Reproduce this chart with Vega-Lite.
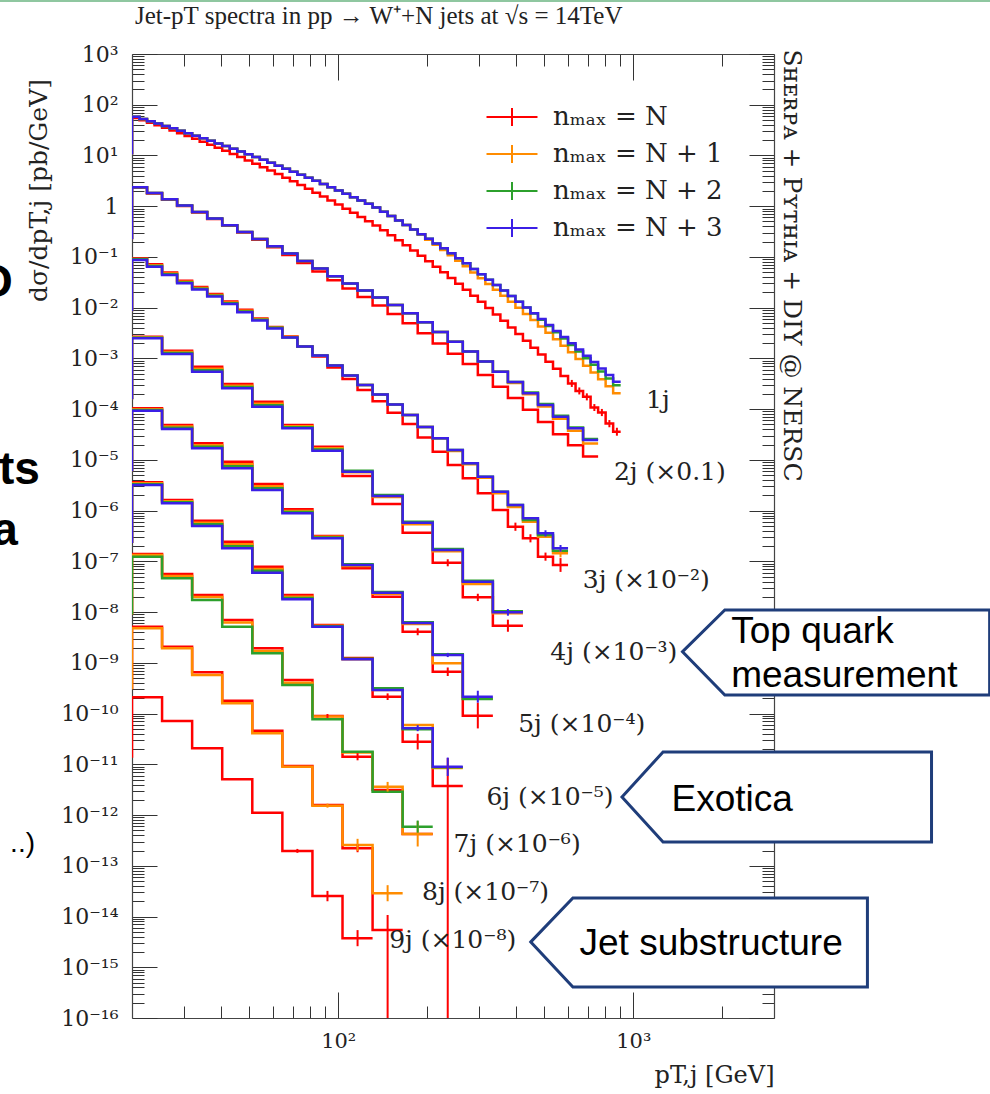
{
"$schema": "https://vega.github.io/schema/vega-lite/v6.json",
"width": 642, "height": 964,
"autosize": {"type": "none"},
"padding": {"left": 132, "top": 54, "right": 216, "bottom": 76},
"background": "white",
"config": {"view": {"stroke": null}, "font": "DejaVu Serif"},
"title": {"text": "Jet-pT spectra in pp → W⁺+N jets at √s = 14TeV", "anchor": "start", "frame": "group", "offset": 0, "dy": 49, "baseline": "alphabetic", "font": "Liberation Serif", "fontSize": 25, "fontWeight": "normal", "color": "#222222", "dx": 3},
"datasets": {
"h": [
{"j":1,
"x":[19.9,20,21.21,22.49,23.85,25.29,26.82,28.44,30.16,31.98,33.92,35.97,38.14,40.44,42.89,45.48,48.23,51.14,54.23,57.51,60.99,64.67,68.58,72.73,77.12,81.78,86.72,91.96,97.52,103.41,109.66,116.29,123.32,130.77,138.67,147.05,155.94,165.36,175.36,185.95,197.19,209.1,221.74,235.14,249.35,264.42,280.39,297.34,315.3,334.36,354.56,375.99,398.71,422.8,448.35,475.44,504.17,534.64,566.95,601.2,637.54,676.06,716.91,760.24,806.18,854.89,906.55],
"r":[11,55.0,49.3,44.1,39.4,35.0,31.0,27.5,24.2,21.3,18.7,16.3,14.2,12.4,10.7,9.28,8.00,6.88,5.89,5.04,4.29,3.65,3.09,2.61,2.20,1.85,1.55,1.294,1.078,0.896,0.742,0.613,0.504,0.416,0.335,0.2686,0.2141,0.170,0.1343,0.1056,0.0826,0.0644,0.0499,0.0385,0.0296,0.0226,0.0172,0.01303,0.00982,0.00737,0.0055,0.00409,0.00303,0.00223,0.00163,0.00119,0.000864,0.000624,0.000449,0.000322,0.000229,0.000175,0.000108,0.000086,0.000052,0.000036,0.000036],
"o":[11,57.7,52.2,47.1,42.5,38.2,34.3,30.7,27.5,24.5,21.9,19.5,17.3,15.3,13.6,12.0,10.6,9.32,8.20,7.19,6.30,5.50,4.80,4.18,3.64,3.16,2.73,2.36,2.04,1.76,1.51,1.30,1.114,0.944,0.778,0.638,0.523,0.426,0.347,0.276,0.219,0.1732,0.1366,0.1074,0.0842,0.0658,0.0493,0.0381,0.0293,0.0225,0.0172,0.01312,0.00996,0.00754,0.00569,0.00428,0.00321,0.00239,0.00178,0.00132,0.000977,0.00072,0.000529,0.000387,0.000282,0.000205,0.000205],
"g":[11,57.7,52.2,47.1,42.5,38.2,34.3,30.7,27.5,24.5,21.9,19.5,17.3,15.3,13.6,12.0,10.6,9.32,8.20,7.19,6.30,5.50,4.80,4.18,3.64,3.16,2.73,2.36,2.04,1.76,1.51,1.30,1.114,0.944,0.778,0.638,0.523,0.426,0.347,0.281,0.228,0.1836,0.1477,0.1184,0.0946,0.0754,0.0577,0.0454,0.0357,0.0279,0.02177,0.01693,0.0131,0.01012,0.00768,0.0058,0.00438,0.00329,0.00246,0.00184,0.00137,0.00101,0.000749,0.000551,0.000404,0.000296,0.000296],
"b":[11,57.7,52.2,47.1,42.5,38.2,34.3,30.7,27.5,24.5,21.9,19.5,17.3,15.3,13.6,12.0,10.6,9.32,8.20,7.19,6.30,5.50,4.80,4.18,3.64,3.16,2.73,2.36,2.04,1.76,1.51,1.30,1.114,0.944,0.778,0.638,0.523,0.426,0.347,0.281,0.228,0.1836,0.1477,0.1184,0.0946,0.0754,0.0577,0.0454,0.0357,0.0279,0.02177,0.01693,0.0131,0.01012,0.00778,0.00597,0.00456,0.00347,0.00264,0.00199,0.0015,0.00113,0.000846,0.000631,0.000469,0.000348,0.000348]},
{"j":2,
"x":[19.9,20,22.49,25.29,28.44,31.98,35.97,40.44,45.48,51.14,57.51,64.67,72.73,81.78,91.96,103.41,116.29,130.77,147.05,165.36,185.95,209.1,235.14,264.42,297.34,334.36,375.99,422.8,475.44,534.64,601.2,676.06,760.24],
"r":[0.236,2.31,1.781,1.338,1.005,0.752,0.56,0.413,0.3034,0.2189,0.1557,0.1093,0.076,0.0515,0.0347,0.0239,0.01625,0.01105,0.00751,0.00493,0.00313,0.00197,0.00124,0.000777,0.000472,0.000277,0.000166,0.0000972,0.0000559,0.0000321,0.0000194,0.0000116,0.0000116],
"o":[0.236,2.36,1.822,1.369,1.028,0.769,0.573,0.4227,0.3105,0.2259,0.163,0.117,0.0833,0.059,0.0416,0.03,0.0218,0.0159,0.0113,0.00776,0.00516,0.00332,0.00214,0.00137,0.00087,0.000548,0.000328,0.000196,0.000113,0.0000649,0.0000375,0.0000211,0.0000211],
"g":[0.236,2.36,1.822,1.369,1.028,0.769,0.573,0.4227,0.3105,0.2259,0.163,0.117,0.0833,0.059,0.0416,0.03,0.0218,0.0159,0.0113,0.00776,0.00516,0.00332,0.00214,0.00137,0.00087,0.000548,0.000343,0.000214,0.000126,0.000074,0.0000437,0.0000257,0.0000257],
"b":[0.236,2.36,1.822,1.369,1.028,0.769,0.573,0.4227,0.3105,0.2259,0.163,0.117,0.0833,0.059,0.0416,0.03,0.0218,0.0159,0.0113,0.00776,0.00516,0.00332,0.00214,0.00137,0.00087,0.000548,0.000343,0.000206,0.000121,0.0000711,0.000042,0.0000247,0.0000247]},
{"j":3,
"x":[19.9,20,22.49,25.29,28.44,31.98,35.97,40.44,45.48,51.14,57.51,64.67,72.73,81.78,91.96,103.41,116.29,130.77,147.05,165.36,185.95,209.1,235.14,264.42,297.34,334.36,375.99,422.8,475.44,534.64,601.2],
"r":[0.009,0.0932,0.072,0.0494,0.0339,0.0256,0.0186,0.01325,0.00909,0.00612,0.00416,0.00271,0.00172,0.00109,0.000663,0.000393,0.000239,0.0001437,0.0000849,0.000051,0.0000275,0.0000145,0.00000794,0.00000434,0.0000022,0.00000103,4.83e-7,2.85e-7,1.24e-7,8.49e-8,8.49e-8],
"o":[0.009,0.0911,0.0688,0.0472,0.0324,0.02445,0.0178,0.01266,0.00869,0.00599,0.00407,0.00267,0.00172,0.00114,0.000726,0.000461,0.0002996,0.0001947,0.0001237,0.0000768,0.0000445,0.0000267,0.000015,0.0000082,0.00000446,0.00000221,0.00000118,6.06e-7,3.07e-7,1.44e-7,1.44e-7],
"g":[0.009,0.0903,0.0666,0.0457,0.03138,0.02368,0.01724,0.01227,0.00842,0.0058,0.00403,0.00259,0.00172,0.00114,0.000726,0.000461,0.0002996,0.0001947,0.0001237,0.0000768,0.0000445,0.0000267,0.0000157,0.00000858,0.00000467,0.00000236,0.00000129,6.54e-7,3.31e-7,1.62e-7,1.62e-7],
"b":[0.009,0.0871,0.0643,0.0441,0.0303,0.0228,0.0166,0.01183,0.00811,0.00559,0.00389,0.00259,0.00172,0.00114,0.000726,0.000461,0.0002996,0.0001947,0.0001237,0.0000768,0.0000445,0.0000267,0.0000157,0.00000858,0.00000467,0.00000236,0.00000129,7.07e-7,3.58e-7,1.81e-7,1.81e-7]},
{"j":4,
"x":[19.9,20,25.29,31.98,40.44,51.14,64.67,81.78,103.41,130.77,165.36,209.1,264.42,334.36,422.8],
"r":[1.66e-4,2.68e-3,1.42e-3,6.86e-4,3.13e-4,1.40e-4,4.9e-5,1.82e-5,4.82e-6,1.35e-6,3.68e-7,9.4e-8,1.96e-8,5.4e-9,5.4e-9],
"o":[1.66e-4,2.60e-3,1.337e-3,6.26e-4,2.89e-4,1.279e-4,4.60e-5,1.693e-5,5.71e-6,1.86e-6,5.41e-7,1.585e-7,3.59e-8,9.46e-9,9.46e-9],
"g":[1.66e-4,2.55e-3,1.279e-3,5.85e-4,2.73e-4,1.195e-4,4.39e-5,1.605e-5,6.12e-6,2.04e-6,6.07e-7,1.76e-7,4.17e-8,1.04e-8,1.04e-8],
"b":[1.66e-4,2.49e-3,1.22e-3,5.47e-4,2.57e-4,1.12e-4,4.2e-5,1.52e-5,5.85e-6,1.94e-6,5.8e-7,1.68e-7,3.98e-8,9.9e-9,9.9e-9]},
{"j":5,
"x":[19.9,20,25.29,31.98,40.44,51.14,64.67,81.78,103.41,130.77,165.36,209.1,264.42,334.36],
"r":[6.3e-6,1.041e-4,4.88e-5,2.13e-5,9.22e-6,3.35e-6,1.063e-6,3.17e-7,7.31e-8,2.01e-8,4.12e-9,6.7e-10,9.1e-11,9.1e-11],
"o":[6.3e-6,9.96e-5,4.54e-5,1.941e-5,8.18e-6,3.01e-6,9.89e-7,3.04e-7,8.11e-8,2.31e-8,5.83e-9,9.8e-10,1.96e-10,1.96e-10],
"g":[6.3e-6,9.64e-5,4.30e-5,1.814e-5,7.48e-6,2.77e-6,9.37e-7,2.94e-7,8.79e-8,2.50e-8,6.32e-9,1.479e-9,1.94e-10,1.94e-10],
"b":[6.3e-6,9.33e-5,4.07e-5,1.694e-5,6.83e-6,2.55e-6,8.87e-7,2.85e-7,8.49e-8,2.42e-8,6.11e-9,1.429e-9,2.15e-10,2.15e-10]},
{"j":6,
"x":[19.9,20,25.29,31.98,40.44,51.14,64.67,81.78,103.41,130.77,165.36,209.1,264.42],
"r":[2.44e-7,3.62e-6,1.622e-6,6.34e-7,2.44e-7,7.87e-8,2.18e-8,5.58e-9,1.247e-9,2.15e-10,2.80e-11,3.75e-12,3.75e-12],
"o":[2.44e-7,3.45e-6,1.528e-6,5.76e-7,2.17e-7,7.06e-8,2.01e-8,5.41e-9,1.178e-9,2.92e-10,5.97e-11,8.47e-12,8.47e-12],
"g":[2.44e-7,3.32e-6,1.461e-6,5.36e-7,1.982e-7,6.50e-8,1.90e-8,5.29e-9,1.20e-9,3.16e-10,4.90e-11,8.71e-12,8.71e-12],
"b":[2.44e-7,3.20e-6,1.396e-6,4.98e-7,1.812e-7,5.99e-8,1.79e-8,5.16e-9,1.178e-9,2.92e-10,5.14e-11,9.0e-12,9.0e-12]},
{"j":7,
"x":[19.9,20,25.29,31.98,40.44,51.14,64.67,81.78,103.41,130.77,165.36,209.1],
"r":[9.5e-9,1.40e-7,5.65e-8,2.18e-8,7.00e-9,1.94e-9,4.60e-10,8.98e-11,1.416e-11,3.13e-12,4.25e-13,4.25e-13],
"o":[9.5e-9,1.337e-7,5.15e-8,1.99e-8,6.25e-9,1.714e-9,4.06e-10,8.77e-11,1.714e-11,3.63e-12,4.25e-13,4.25e-13],
"g":[9.5e-9,1.238e-7,4.65e-8,1.734e-8,5.16e-9,1.545e-9,3.66e-10,7.73e-11,1.778e-11,2.89e-12,5.91e-13,5.91e-13],
"b":[]},
{"j":8,
"x":[19.9,20,25.29,31.98,40.44,51.14,64.67,81.78,103.41,130.77,165.36],
"r":[3.2e-10,5.16e-9,2.08e-9,6.52e-10,1.80e-10,4.61e-11,9.29e-12,1.581e-12,2.22e-13,5.43e-15,5.43e-15],
"o":[3.2e-10,4.80e-9,1.94e-9,5.77e-10,1.596e-10,4.09e-11,9.0e-12,1.531e-12,2.58e-13,2.88e-14,2.88e-14],
"g":[],"b":[]},
{"j":9,
"x":[19.9,20,25.29,31.98,40.44,51.14,64.67,81.78,103.41,130.77],
"r":[1.42e-11,2.10e-10,7.14e-11,2.07e-11,5.08e-12,1.115e-12,1.963e-13,2.55e-14,3.73e-15,3.73e-15],
"o":[],"g":[],"b":[]}
],
"eb": [
{"s":"r","x":619.1,"lo":2.74e-4,"hi":3.77e-4},
{"s":"r","x":656.5,"lo":1.95e-4,"hi":2.68e-4},
{"s":"r","x":696.2,"lo":1.49e-4,"hi":2.05e-4},
{"s":"r","x":738.3,"lo":9.2e-5,"hi":1.26e-4},
{"s":"r","x":782.9,"lo":7.3e-5,"hi":1.01e-4},
{"s":"r","x":830.2,"lo":4.4e-5,"hi":6.1e-5},
{"s":"r","x":880.3,"lo":3.0e-5,"hi":4.3e-5},
{"s":"r","x":398.7,"lo":4.0e-7,"hi":5.8e-7},
{"s":"r","x":448.35,"lo":2.37e-7,"hi":3.42e-7},
{"s":"r","x":504.2,"lo":1.03e-7,"hi":1.49e-7},
{"s":"r","x":566.95,"lo":6.2e-8,"hi":1.16e-7},
{"s":"r","x":235.1,"lo":8.0e-8,"hi":1.1e-7},
{"s":"r","x":297.3,"lo":1.65e-8,"hi":2.3e-8},
{"s":"r","x":376.0,"lo":4.1e-9,"hi":7.1e-9},
{"s":"r","x":185.95,"lo":3.5e-9,"hi":4.8e-9},
{"s":"r","x":235.1,"lo":5.5e-10,"hi":8.1e-10},
{"s":"r","x":297.3,"lo":5.1e-11,"hi":1.64e-10},
{"s":"r","x":147.05,"lo":1.85e-10,"hi":2.5e-10},
{"s":"r","x":185.95,"lo":1.96e-11,"hi":4.0e-11},
{"s":"r","x":235.1,"lo":1e-20,"hi":1.33e-11},
{"s":"r","x":91.96,"lo":8.2e-11,"hi":9.8e-11},
{"s":"r","x":116.3,"lo":1.2e-11,"hi":1.66e-11},
{"s":"r","x":116.3,"lo":1.85e-13,"hi":2.65e-13},
{"s":"r","x":147.05,"lo":1e-20,"hi":1.07e-14},
{"s":"r","x":72.72,"lo":1.8e-13,"hi":2.15e-13},
{"s":"r","x":91.96,"lo":2.0e-14,"hi":3.2e-14},
{"s":"r","x":116.3,"lo":2.6e-15,"hi":5.4e-15},
{"s":"o","x":566.95,"lo":1.2e-7,"hi":1.7e-7},
{"s":"o","x":147.05,"lo":2.9e-12,"hi":4.5e-12},
{"s":"o","x":185.95,"lo":2.4e-13,"hi":7.6e-13},
{"s":"o","x":91.96,"lo":1.4e-12,"hi":1.68e-12},
{"s":"o","x":116.3,"lo":1.95e-13,"hi":3.4e-13},
{"s":"o","x":147.05,"lo":2.0e-14,"hi":4.15e-14},
{"s":"g","x":185.95,"lo":4.5e-13,"hi":7.8e-13},
{"s":"b","x":504.2,"lo":3.1e-7,"hi":4.1e-7},
{"s":"b","x":566.95,"lo":1.55e-7,"hi":2.1e-7},
{"s":"b","x":376.0,"lo":8.5e-9,"hi":1.15e-8},
{"s":"b","x":235.1,"lo":1.3e-9,"hi":1.57e-9},
{"s":"b","x":297.3,"lo":1.64e-10,"hi":2.82e-10},
{"s":"b","x":185.95,"lo":4.5e-11,"hi":5.9e-11},
{"s":"b","x":235.1,"lo":5.9e-12,"hi":1.36e-11}
],
"box": [
{"box":"t","x":1469.6,"y":1.66e-9,"y2":1.66e-9},
{"box":"t","x":2044,"y":1.10e-8,"y2":2.33e-10},
{"box":"t","x":16144,"y":1.10e-8,"y2":2.33e-10},
{"box":"e","x":916,"y":2.28e-12,"y2":2.28e-12},
{"box":"e","x":1262,"y":1.75e-11,"y2":2.95e-13},
{"box":"e","x":10258,"y":1.75e-11,"y2":2.95e-13},
{"box":"s","x":449.6,"y":3.16e-15,"y2":3.16e-15},
{"box":"s","x":624.4,"y":2.32e-14,"y2":4.09e-16},
{"box":"s","x":6220,"y":2.32e-14,"y2":4.09e-16}
],
"ct": [
{"x":2148,"y":2.47e-9,"t":"Top quark"},
{"x":2148,"y":3.35e-10,"t":"measurement"},
{"x":1348,"y":1.205e-12,"t":"Exotica"},
{"x":657.5,"y":1.75e-15,"t":"Jet substructure"}
],
"ml": [
{"x":1104.8,"y":1.054e-4,"t":"1j"},
{"x":860.2,"y":4.02e-6,"t":"2j (×0.1)"},
{"x":674.2,"y":2.95e-8,"t":"3j (×10⁻²)"},
{"x":523.4,"y":1.14e-9,"t":"4j (×10⁻³)"},
{"x":407.4,"y":4.28e-11,"t":"5j (×10⁻⁴)"},
{"x":318,"y":1.58e-12,"t":"6j (×10⁻⁵)"},
{"x":246,"y":1.90e-13,"t":"7j (×10⁻⁶)"},
{"x":192.3,"y":2.12e-14,"t":"8j (×10⁻⁷)"},
{"x":148.8,"y":2.37e-15,"t":"9j (×10⁻⁸)"}
],
"fr": [
{"x":7.89,"y":1.625e-2,"t":"O"},
{"x":9.75,"y":3.35e-6,"t":"ts"},
{"x":8.21,"y":2.1e-7,"t":"a"}
],
"fr2": [{"x":9.38,"y":1.875e-13,"t":"..)"}],
"top": [{"x":7.13,"x2":16400,"y":11080}]
},
"layer": [
{
"data": {"values": [{"x": 100, "y": 1}]},
"mark": {"type": "point", "opacity": 0},
"encoding": {
"x": {"field": "x", "type": "quantitative", "scale": {"type": "log", "domain": [20, 3000], "nice": false},
 "axis": {"orient": "bottom", "values": [30,40,50,60,70,80,90,100,200,300,400,500,600,700,800,900,1000,2000],
  "labelExpr": "datum.value == 100 ? '10²' : (datum.value == 1000 ? '10³' : '')",
  "tickSize": {"condition": {"test": "datum.value == 100 || datum.value == 1000", "value": -26}, "value": -12},
  "labelPadding": {"condition": {"test": "datum.value == 100 || datum.value == 1000", "value": 38}, "value": 24},
  "labelFont": "DejaVu Serif", "labelFontSize": 21, "labelColor": "#222222", "labelBaseline": "top", "labelOverlap": false, "labelFlush": false,
  "tickColor": "#333333", "tickWidth": 1, "domainColor": "#444444", "domainWidth": 1.2, "grid": false, "zindex": 0,
  "title": "pT,j [GeV]", "titleFont": "DejaVu Serif", "titleFontSize": 24, "titleFontWeight": "normal", "titleColor": "#222222",
  "titleAnchor": "end", "titleAlign": "right", "titleBaseline": "alphabetic", "titleX": 642, "titleY": 64}},
"y": {"field": "y", "type": "quantitative", "scale": {"type": "log", "domain": [1e-16, 1000], "nice": false},
 "axis": {"orient": "left",
  "values": [1e-16,2e-16,3e-16,4e-16,5e-16,6e-16,7e-16,8e-16,9e-16,1e-15,2e-15,3e-15,4e-15,5e-15,6e-15,7e-15,8e-15,9e-15,1e-14,2e-14,3e-14,4e-14,5e-14,6e-14,7e-14,8e-14,9e-14,1e-13,2e-13,3e-13,4e-13,5e-13,6e-13,7e-13,8e-13,9e-13,1e-12,2e-12,3e-12,4e-12,5e-12,6e-12,7e-12,8e-12,9e-12,1e-11,2e-11,3e-11,4e-11,5e-11,6e-11,7e-11,8e-11,9e-11,1e-10,2e-10,3e-10,4e-10,5e-10,6e-10,7e-10,8e-10,9e-10,1e-9,2e-9,3e-9,4e-9,5e-9,6e-9,7e-9,8e-9,9e-9,1e-8,2e-8,3e-8,4e-8,5e-8,6e-8,7e-8,8e-8,9e-8,1e-7,2e-7,3e-7,4e-7,5e-7,6e-7,7e-7,8e-7,9e-7,1e-6,2e-6,3e-6,4e-6,5e-6,6e-6,7e-6,8e-6,9e-6,1e-5,2e-5,3e-5,4e-5,5e-5,6e-5,7e-5,8e-5,9e-5,1e-4,2e-4,3e-4,4e-4,5e-4,6e-4,7e-4,8e-4,9e-4,1e-3,2e-3,3e-3,4e-3,5e-3,6e-3,7e-3,8e-3,9e-3,1e-2,2e-2,3e-2,4e-2,5e-2,6e-2,7e-2,8e-2,9e-2,0.1,0.2,0.3,0.4,0.5,0.6,0.7,0.8,0.9,1,2,3,4,5,6,7,8,9,10,20,30,40,50,60,70,80,90,100,200,300,400,500,600,700,800,900,1000],
  "labelExpr": "abs(log(datum.value)/LN10 - round(log(datum.value)/LN10)) < 0.01 ? ['10⁻¹⁶','10⁻¹⁵','10⁻¹⁴','10⁻¹³','10⁻¹²','10⁻¹¹','10⁻¹⁰','10⁻⁹','10⁻⁸','10⁻⁷','10⁻⁶','10⁻⁵','10⁻⁴','10⁻³','10⁻²','10⁻¹','1','10¹','10²','10³'][round(log(datum.value)/LN10)+16] : ''",
  "tickSize": {"condition": {"test": "abs(log(datum.value)/LN10 - round(log(datum.value)/LN10)) < 0.01", "value": -25}, "value": -12},
  "labelPadding": {"condition": {"test": "abs(log(datum.value)/LN10 - round(log(datum.value)/LN10)) < 0.01", "value": 39}, "value": 25},
  "labelFont": "DejaVu Serif", "labelFontSize": 22, "labelColor": "#222222", "labelOverlap": false, "labelFlush": false, "labelBaseline": "middle",
  "tickColor": "#333333", "tickWidth": 1, "domainColor": "#444444", "domainWidth": 1.2, "grid": false, "zindex": 0,
  "title": "dσ/dpT,j [pb/GeV]", "titleFont": "DejaVu Serif", "titleFontSize": 25, "titleFontWeight": "normal", "titleColor": "#222222",
  "titleAngle": -90, "titleAlign": "center", "titleBaseline": "middle", "titleX": -94, "titleY": 136}}
}
},
{
"data": {"values": [{"x": 100, "y": 1}]},
"mark": {"type": "point", "opacity": 0},
"encoding": {
"x": {"field": "x", "type": "quantitative", "scale": {"type": "log", "domain": [20, 3000], "nice": false},
 "axis": {"orient": "top", "values": [30,40,50,60,70,80,90,100,200,300,400,500,600,700,800,900,1000,2000], "labels": false,
  "tickSize": {"condition": {"test": "datum.value == 100 || datum.value == 1000", "value": -26}, "value": -12},
  "tickColor": "#333333", "tickWidth": 1, "domainColor": "#444444", "domainWidth": 1.2, "grid": false, "zindex": 0, "title": null}},
"y": {"field": "y", "type": "quantitative", "scale": {"type": "log", "domain": [1e-16, 1000], "nice": false},
 "axis": {"orient": "right", "labels": false,
  "values": [1e-16,2e-16,3e-16,4e-16,5e-16,6e-16,7e-16,8e-16,9e-16,1e-15,2e-15,3e-15,4e-15,5e-15,6e-15,7e-15,8e-15,9e-15,1e-14,2e-14,3e-14,4e-14,5e-14,6e-14,7e-14,8e-14,9e-14,1e-13,2e-13,3e-13,4e-13,5e-13,6e-13,7e-13,8e-13,9e-13,1e-12,2e-12,3e-12,4e-12,5e-12,6e-12,7e-12,8e-12,9e-12,1e-11,2e-11,3e-11,4e-11,5e-11,6e-11,7e-11,8e-11,9e-11,1e-10,2e-10,3e-10,4e-10,5e-10,6e-10,7e-10,8e-10,9e-10,1e-9,2e-9,3e-9,4e-9,5e-9,6e-9,7e-9,8e-9,9e-9,1e-8,2e-8,3e-8,4e-8,5e-8,6e-8,7e-8,8e-8,9e-8,1e-7,2e-7,3e-7,4e-7,5e-7,6e-7,7e-7,8e-7,9e-7,1e-6,2e-6,3e-6,4e-6,5e-6,6e-6,7e-6,8e-6,9e-6,1e-5,2e-5,3e-5,4e-5,5e-5,6e-5,7e-5,8e-5,9e-5,1e-4,2e-4,3e-4,4e-4,5e-4,6e-4,7e-4,8e-4,9e-4,1e-3,2e-3,3e-3,4e-3,5e-3,6e-3,7e-3,8e-3,9e-3,1e-2,2e-2,3e-2,4e-2,5e-2,6e-2,7e-2,8e-2,9e-2,0.1,0.2,0.3,0.4,0.5,0.6,0.7,0.8,0.9,1,2,3,4,5,6,7,8,9,10,20,30,40,50,60,70,80,90,100,200,300,400,500,600,700,800,900,1000],
  "tickSize": {"condition": {"test": "abs(log(datum.value)/LN10 - round(log(datum.value)/LN10)) < 0.01", "value": -25}, "value": -12},
  "tickColor": "#333333", "tickWidth": 1, "domainColor": "#444444", "domainWidth": 1.2, "grid": false, "zindex": 0,
  "title": "Sʜᴇʀᴘᴀ + Pʏᴛʜɪᴀ + DIY @ NERSC", "titleFont": "DejaVu Serif", "titleFontSize": 25, "titleFontWeight": "normal", "titleColor": "#222222",
  "titleAngle": 90, "titleAlign": "center", "titleBaseline": "middle", "titleX": 17, "titleY": 211}}
}
},
{
"data": {"name": "h"},
"transform": [{"flatten": ["x", "r", "o", "g", "b"]}],
"layer": [
{"mark": {"type": "line", "interpolate": "step-after", "clip": true, "strokeWidth": 2.5},
 "encoding": {
  "x": {"field": "x", "type": "quantitative", "scale": {"type": "log", "domain": [20, 3000], "nice": false}, "axis": null},
  "y": {"field": "r", "type": "quantitative", "scale": {"type": "log", "domain": [1e-16, 1000], "nice": false}, "axis": null},
  "detail": {"field": "j", "type": "nominal"},
  "color": {"datum": "nₘₐₓ = N", "type": "nominal",
   "scale": {"domain": ["nₘₐₓ = N", "nₘₐₓ = N + 1", "nₘₐₓ = N + 2", "nₘₐₓ = N + 3"], "range": ["#ff0000", "#ff8c00", "#2ca02c", "#3b1fe6"]},
   "legend": {"orient": "none", "legendX": 366, "legendY": 49, "title": null, "symbolType": "M-2,0H2M0,-0.7V0.7", "symbolSize": 650, "symbolStrokeWidth": 2,
    "labelFont": "DejaVu Serif", "labelFontSize": 26, "labelColor": "#222222", "labelOffset": 27, "rowPadding": 10, "padding": 0, "labelLimit": 400}}
 }},
{"mark": {"type": "line", "interpolate": "step-after", "clip": true, "strokeWidth": 2.5},
 "encoding": {
  "x": {"field": "x", "type": "quantitative", "scale": {"type": "log", "domain": [20, 3000], "nice": false}, "axis": null},
  "y": {"field": "o", "type": "quantitative", "scale": {"type": "log", "domain": [1e-16, 1000], "nice": false}, "axis": null},
  "detail": {"field": "j", "type": "nominal"},
  "color": {"datum": "nₘₐₓ = N + 1", "type": "nominal"}
 }},
{"mark": {"type": "line", "interpolate": "step-after", "clip": true, "strokeWidth": 2.5},
 "encoding": {
  "x": {"field": "x", "type": "quantitative", "scale": {"type": "log", "domain": [20, 3000], "nice": false}, "axis": null},
  "y": {"field": "g", "type": "quantitative", "scale": {"type": "log", "domain": [1e-16, 1000], "nice": false}, "axis": null},
  "detail": {"field": "j", "type": "nominal"},
  "color": {"datum": "nₘₐₓ = N + 2", "type": "nominal"}
 }},
{"mark": {"type": "line", "interpolate": "step-after", "clip": true, "strokeWidth": 2.5},
 "encoding": {
  "x": {"field": "x", "type": "quantitative", "scale": {"type": "log", "domain": [20, 3000], "nice": false}, "axis": null},
  "y": {"field": "b", "type": "quantitative", "scale": {"type": "log", "domain": [1e-16, 1000], "nice": false}, "axis": null},
  "detail": {"field": "j", "type": "nominal"},
  "color": {"datum": "nₘₐₓ = N + 3", "type": "nominal"}
 }}
]
},
{
"data": {"name": "eb"},
"mark": {"type": "rule", "clip": true, "strokeWidth": 2},
"encoding": {
 "x": {"field": "x", "type": "quantitative", "scale": {"type": "log", "domain": [20, 3000], "nice": false}, "axis": null},
 "y": {"field": "lo", "type": "quantitative", "scale": {"type": "log", "domain": [1e-16, 1000], "nice": false}, "axis": null},
 "y2": {"field": "hi"},
 "stroke": {"field": "s", "type": "nominal", "scale": {"domain": ["r", "o", "g", "b"], "range": ["#ff0000", "#ff8c00", "#2ca02c", "#3b1fe6"]}, "legend": null}
}
},
{
"data": {"name": "box"},
"mark": {"type": "area", "orient": "vertical", "fill": "#ffffff", "fillOpacity": 1, "opacity": 1, "stroke": "#1f3d7a", "strokeWidth": 3, "strokeJoin": "miter", "clip": false},
"encoding": {
 "x": {"field": "x", "type": "quantitative", "scale": {"type": "log", "domain": [20, 3000], "nice": false}, "axis": null},
 "y": {"field": "y", "type": "quantitative", "scale": {"type": "log", "domain": [1e-16, 1000], "nice": false}, "axis": null},
 "y2": {"field": "y2"},
 "detail": {"field": "box", "type": "nominal"}
}
},
{
"data": {"name": "ct"},
"mark": {"type": "text", "align": "left", "baseline": "alphabetic", "font": "Liberation Sans", "fontSize": 37, "color": "#000000"},
"encoding": {
 "x": {"field": "x", "type": "quantitative", "scale": {"type": "log", "domain": [20, 3000], "nice": false}, "axis": null},
 "y": {"field": "y", "type": "quantitative", "scale": {"type": "log", "domain": [1e-16, 1000], "nice": false}, "axis": null},
 "text": {"field": "t"}
}
},
{
"data": {"name": "ml"},
"mark": {"type": "text", "align": "left", "baseline": "alphabetic", "font": "DejaVu Serif", "fontSize": 25, "color": "#222222"},
"encoding": {
 "x": {"field": "x", "type": "quantitative", "scale": {"type": "log", "domain": [20, 3000], "nice": false}, "axis": null},
 "y": {"field": "y", "type": "quantitative", "scale": {"type": "log", "domain": [1e-16, 1000], "nice": false}, "axis": null},
 "text": {"field": "t"}
}
},
{
"data": {"name": "fr"},
"mark": {"type": "text", "align": "right", "baseline": "alphabetic", "font": "Liberation Sans", "fontWeight": "bold", "fontSize": 46, "color": "#000000"},
"encoding": {
 "x": {"field": "x", "type": "quantitative", "scale": {"type": "log", "domain": [20, 3000], "nice": false}, "axis": null},
 "y": {"field": "y", "type": "quantitative", "scale": {"type": "log", "domain": [1e-16, 1000], "nice": false}, "axis": null},
 "text": {"field": "t"}
}
},
{
"data": {"name": "fr2"},
"mark": {"type": "text", "align": "right", "baseline": "alphabetic", "font": "Liberation Sans", "fontSize": 28, "color": "#000000"},
"encoding": {
 "x": {"field": "x", "type": "quantitative", "scale": {"type": "log", "domain": [20, 3000], "nice": false}, "axis": null},
 "y": {"field": "y", "type": "quantitative", "scale": {"type": "log", "domain": [1e-16, 1000], "nice": false}, "axis": null},
 "text": {"field": "t"}
}
},
{
"data": {"name": "top"},
"mark": {"type": "rule", "strokeWidth": 2, "color": "#8fc7a0", "clip": false},
"encoding": {
 "x": {"field": "x", "type": "quantitative", "scale": {"type": "log", "domain": [20, 3000], "nice": false}, "axis": null},
 "x2": {"field": "x2"},
 "y": {"field": "y", "type": "quantitative", "scale": {"type": "log", "domain": [1e-16, 1000], "nice": false}, "axis": null}
}
}
],
"resolve": {"axis": {"x": "independent", "y": "independent"}}
}
